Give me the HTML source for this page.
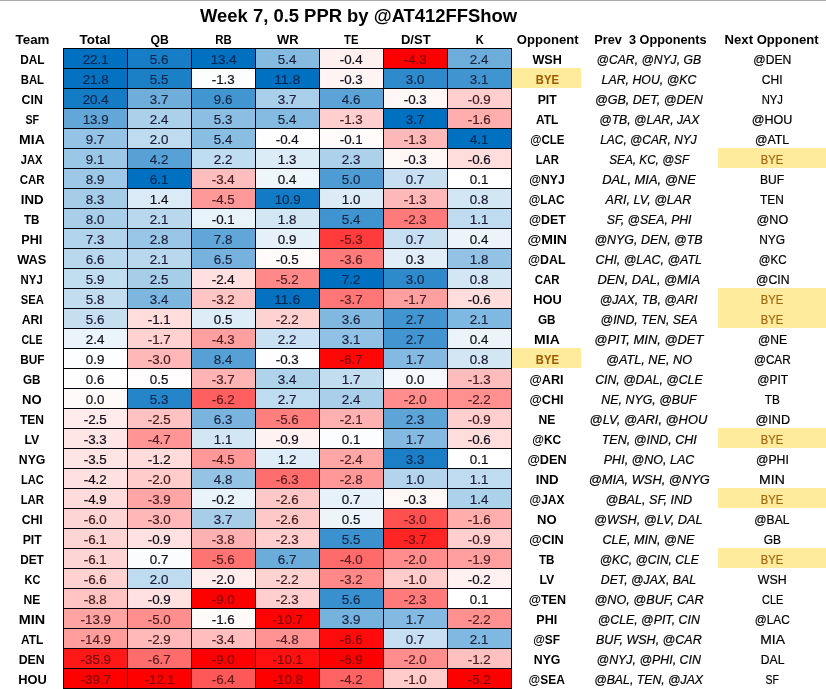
<!DOCTYPE html>
<html><head><meta charset="utf-8"><title>Week 7, 0.5 PPR</title>
<style>
html,body{margin:0;padding:0;background:#fff;}
body{width:826px;height:689px;position:relative;overflow:hidden;font-family:"Liberation Sans",sans-serif;color:#000;}
.topline{position:absolute;left:0;top:0;width:826px;height:1px;background:#a9a9a9;}
.grid{position:absolute;left:63px;top:48px;width:449px;height:641px;overflow:hidden;}
.c{position:absolute;width:65px;height:21px;}
.vl{position:absolute;top:0;width:1px;height:100%;background:#02020a;}
.hl{position:absolute;left:0;height:1px;width:100%;background:#02020a;}
.y{position:absolute;background:#FFEB9C;}
.t{position:absolute;white-space:pre;line-height:1;font-size:13px;transform-origin:50% 50%;}
.b,.hb{font-weight:bold;}
.i{font-style:italic;}
.n{color:rgba(0,0,10,0.93);}
.n,.r,.i{-webkit-text-stroke:0.22px currentColor;}
.ttl{font-weight:bold;font-size:18.2px;}
.bye{color:#9C5700;}
.r.bye{color:#A2660E;}
.txt{position:absolute;left:0;top:0;width:826px;height:689px;will-change:transform;}

</style></head><body>
<div class="topline"></div>
<div class="y" style="left:512.4px;top:67.8px;width:68.6px;height:19.8px"></div>
<div class="y" style="left:718px;top:147.8px;width:108px;height:19.8px"></div>
<div class="y" style="left:718px;top:287.8px;width:108px;height:19.8px"></div>
<div class="y" style="left:718px;top:307.8px;width:108px;height:19.8px"></div>
<div class="y" style="left:512.4px;top:347.8px;width:68.6px;height:19.8px"></div>
<div class="y" style="left:718px;top:427.8px;width:108px;height:19.8px"></div>
<div class="y" style="left:718px;top:487.8px;width:108px;height:19.8px"></div>
<div class="y" style="left:718px;top:547.8px;width:108px;height:19.8px"></div>
<div class="grid">
<div class="c" style="left:0px;top:0px;background:#0070C0"></div>
<div class="c" style="left:64px;top:0px;background:#177DC6"></div>
<div class="c" style="left:128px;top:0px;background:#0070C0"></div>
<div class="c" style="left:192px;top:0px;background:#86BBE1"></div>
<div class="c" style="left:256px;top:0px;background:#FFF0F0"></div>
<div class="c" style="left:320px;top:0px;background:#FF0000"></div>
<div class="c" style="left:384px;top:0px;background:#6CADDB"></div>
<div class="c" style="left:0px;top:20px;background:#0472C1"></div>
<div class="c" style="left:64px;top:20px;background:#1C80C7"></div>
<div class="c" style="left:128px;top:20px;background:#FCFEFE"></div>
<div class="c" style="left:192px;top:20px;background:#0070C0"></div>
<div class="c" style="left:256px;top:20px;background:#FFF4F4"></div>
<div class="c" style="left:320px;top:20px;background:#2E8ACB"></div>
<div class="c" style="left:384px;top:20px;background:#4094D0"></div>
<div class="c" style="left:0px;top:40px;background:#147BC5"></div>
<div class="c" style="left:64px;top:40px;background:#6FAEDB"></div>
<div class="c" style="left:128px;top:40px;background:#4195D0"></div>
<div class="c" style="left:192px;top:40px;background:#AACFEA"></div>
<div class="c" style="left:256px;top:40px;background:#5CA4D7"></div>
<div class="c" style="left:320px;top:40px;background:#FFF6F6"></div>
<div class="c" style="left:384px;top:40px;background:#FFCFCF"></div>
<div class="c" style="left:0px;top:60px;background:#62A7D8"></div>
<div class="c" style="left:64px;top:60px;background:#ACD0EA"></div>
<div class="c" style="left:128px;top:60px;background:#8BBEE2"></div>
<div class="c" style="left:192px;top:60px;background:#86BBE1"></div>
<div class="c" style="left:256px;top:60px;background:#FFCFCF"></div>
<div class="c" style="left:320px;top:60px;background:#0070C0"></div>
<div class="c" style="left:384px;top:60px;background:#FFADAD"></div>
<div class="c" style="left:0px;top:80px;background:#94C3E5"></div>
<div class="c" style="left:64px;top:80px;background:#BEDBEF"></div>
<div class="c" style="left:128px;top:80px;background:#89BDE2"></div>
<div class="c" style="left:192px;top:80px;background:#FFFEFE"></div>
<div class="c" style="left:256px;top:80px;background:#FFFBFB"></div>
<div class="c" style="left:320px;top:80px;background:#FFB8B8"></div>
<div class="c" style="left:384px;top:80px;background:#0070C0"></div>
<div class="c" style="left:0px;top:100px;background:#9BC7E6"></div>
<div class="c" style="left:64px;top:100px;background:#58A1D6"></div>
<div class="c" style="left:128px;top:100px;background:#C0DCF0"></div>
<div class="c" style="left:192px;top:100px;background:#DCECF6"></div>
<div class="c" style="left:256px;top:100px;background:#AED1EB"></div>
<div class="c" style="left:320px;top:100px;background:#FFF6F6"></div>
<div class="c" style="left:384px;top:100px;background:#FFDDDD"></div>
<div class="c" style="left:0px;top:120px;background:#9EC8E7"></div>
<div class="c" style="left:64px;top:120px;background:#0070C0"></div>
<div class="c" style="left:128px;top:120px;background:#FFBDBD"></div>
<div class="c" style="left:192px;top:120px;background:#EFF6FB"></div>
<div class="c" style="left:256px;top:120px;background:#4E9CD3"></div>
<div class="c" style="left:320px;top:120px;background:#C7DFF1"></div>
<div class="c" style="left:384px;top:120px;background:#FFFFFF"></div>
<div class="c" style="left:0px;top:140px;background:#A5CCE9"></div>
<div class="c" style="left:64px;top:140px;background:#DAEAF6"></div>
<div class="c" style="left:128px;top:140px;background:#FF9898"></div>
<div class="c" style="left:192px;top:140px;background:#137BC5"></div>
<div class="c" style="left:256px;top:140px;background:#DCEBF6"></div>
<div class="c" style="left:320px;top:140px;background:#FFB8B8"></div>
<div class="c" style="left:384px;top:140px;background:#D2E6F4"></div>
<div class="c" style="left:0px;top:160px;background:#A8CEEA"></div>
<div class="c" style="left:64px;top:160px;background:#B9D8EE"></div>
<div class="c" style="left:128px;top:160px;background:#E8F2F9"></div>
<div class="c" style="left:192px;top:160px;background:#D2E6F4"></div>
<div class="c" style="left:256px;top:160px;background:#4094D0"></div>
<div class="c" style="left:320px;top:160px;background:#FF7B7B"></div>
<div class="c" style="left:384px;top:160px;background:#BFDBEF"></div>
<div class="c" style="left:0px;top:180px;background:#B1D3EC"></div>
<div class="c" style="left:64px;top:180px;background:#99C6E6"></div>
<div class="c" style="left:128px;top:180px;background:#60A6D8"></div>
<div class="c" style="left:192px;top:180px;background:#E5F0F9"></div>
<div class="c" style="left:256px;top:180px;background:#FF3B3B"></div>
<div class="c" style="left:320px;top:180px;background:#C7DFF1"></div>
<div class="c" style="left:384px;top:180px;background:#ECF4FA"></div>
<div class="c" style="left:0px;top:200px;background:#B9D8EE"></div>
<div class="c" style="left:64px;top:200px;background:#B9D8EE"></div>
<div class="c" style="left:128px;top:200px;background:#76B2DD"></div>
<div class="c" style="left:192px;top:200px;background:#FFFBFB"></div>
<div class="c" style="left:256px;top:200px;background:#FF7A7A"></div>
<div class="c" style="left:320px;top:200px;background:#E1EEF8"></div>
<div class="c" style="left:384px;top:200px;background:#93C2E4"></div>
<div class="c" style="left:0px;top:220px;background:#C1DDF0"></div>
<div class="c" style="left:64px;top:220px;background:#A7CEE9"></div>
<div class="c" style="left:128px;top:220px;background:#FFDFDF"></div>
<div class="c" style="left:192px;top:220px;background:#FF8989"></div>
<div class="c" style="left:256px;top:220px;background:#0070C0"></div>
<div class="c" style="left:320px;top:220px;background:#2E8ACB"></div>
<div class="c" style="left:384px;top:220px;background:#D2E6F4"></div>
<div class="c" style="left:0px;top:240px;background:#C3DDF0"></div>
<div class="c" style="left:64px;top:240px;background:#7DB6DF"></div>
<div class="c" style="left:128px;top:240px;background:#FFC4C4"></div>
<div class="c" style="left:192px;top:240px;background:#0472C1"></div>
<div class="c" style="left:256px;top:240px;background:#FF7676"></div>
<div class="c" style="left:320px;top:240px;background:#FFA0A0"></div>
<div class="c" style="left:384px;top:240px;background:#FFDDDD"></div>
<div class="c" style="left:0px;top:260px;background:#C5DFF1"></div>
<div class="c" style="left:64px;top:260px;background:#FFDDDD"></div>
<div class="c" style="left:128px;top:260px;background:#DEECF7"></div>
<div class="c" style="left:192px;top:260px;background:#FFD2D2"></div>
<div class="c" style="left:256px;top:260px;background:#80B8E0"></div>
<div class="c" style="left:320px;top:260px;background:#4295D0"></div>
<div class="c" style="left:384px;top:260px;background:#7FB8E0"></div>
<div class="c" style="left:0px;top:280px;background:#EBF4FA"></div>
<div class="c" style="left:64px;top:280px;background:#FFD1D1"></div>
<div class="c" style="left:128px;top:280px;background:#FF9F9F"></div>
<div class="c" style="left:192px;top:280px;background:#C9E1F2"></div>
<div class="c" style="left:256px;top:280px;background:#91C1E4"></div>
<div class="c" style="left:320px;top:280px;background:#4295D0"></div>
<div class="c" style="left:384px;top:280px;background:#ECF4FA"></div>
<div class="c" style="left:0px;top:300px;background:#FDFEFF"></div>
<div class="c" style="left:64px;top:300px;background:#FFB7B7"></div>
<div class="c" style="left:128px;top:300px;background:#56A0D5"></div>
<div class="c" style="left:192px;top:300px;background:#FEFEFF"></div>
<div class="c" style="left:256px;top:300px;background:#FF0707"></div>
<div class="c" style="left:320px;top:300px;background:#84BAE1"></div>
<div class="c" style="left:384px;top:300px;background:#D2E6F4"></div>
<div class="c" style="left:0px;top:320px;background:#FFFEFE"></div>
<div class="c" style="left:64px;top:320px;background:#FFFDFD"></div>
<div class="c" style="left:128px;top:320px;background:#FFB3B3"></div>
<div class="c" style="left:192px;top:320px;background:#B0D3EC"></div>
<div class="c" style="left:256px;top:320px;background:#C3DDF0"></div>
<div class="c" style="left:320px;top:320px;background:#F5F9FD"></div>
<div class="c" style="left:384px;top:320px;background:#FFBCBC"></div>
<div class="c" style="left:0px;top:340px;background:#FFFAFA"></div>
<div class="c" style="left:64px;top:340px;background:#2585C9"></div>
<div class="c" style="left:128px;top:340px;background:#FF5F5F"></div>
<div class="c" style="left:192px;top:340px;background:#BFDBEF"></div>
<div class="c" style="left:256px;top:340px;background:#AACFEA"></div>
<div class="c" style="left:320px;top:340px;background:#FF8D8D"></div>
<div class="c" style="left:384px;top:340px;background:#FF9090"></div>
<div class="c" style="left:0px;top:360px;background:#FFEBEB"></div>
<div class="c" style="left:64px;top:360px;background:#FFC1C1"></div>
<div class="c" style="left:128px;top:360px;background:#7AB4DE"></div>
<div class="c" style="left:192px;top:360px;background:#FF7F7F"></div>
<div class="c" style="left:256px;top:360px;background:#FFB1B1"></div>
<div class="c" style="left:320px;top:360px;background:#5DA4D7"></div>
<div class="c" style="left:384px;top:360px;background:#FFCFCF"></div>
<div class="c" style="left:0px;top:380px;background:#FFE5E5"></div>
<div class="c" style="left:64px;top:380px;background:#FF9595"></div>
<div class="c" style="left:128px;top:380px;background:#D3E6F4"></div>
<div class="c" style="left:192px;top:380px;background:#FFF2F2"></div>
<div class="c" style="left:256px;top:380px;background:#FBFDFE"></div>
<div class="c" style="left:320px;top:380px;background:#84BAE1"></div>
<div class="c" style="left:384px;top:380px;background:#FFDDDD"></div>
<div class="c" style="left:0px;top:400px;background:#FFE4E4"></div>
<div class="c" style="left:64px;top:400px;background:#FFDBDB"></div>
<div class="c" style="left:128px;top:400px;background:#FF9898"></div>
<div class="c" style="left:192px;top:400px;background:#DEEDF7"></div>
<div class="c" style="left:256px;top:400px;background:#FFA6A6"></div>
<div class="c" style="left:320px;top:400px;background:#1A7FC7"></div>
<div class="c" style="left:384px;top:400px;background:#FFFFFF"></div>
<div class="c" style="left:0px;top:420px;background:#FFE0E0"></div>
<div class="c" style="left:64px;top:420px;background:#FFCBCB"></div>
<div class="c" style="left:128px;top:420px;background:#94C3E4"></div>
<div class="c" style="left:192px;top:420px;background:#FF6E6E"></div>
<div class="c" style="left:256px;top:420px;background:#FF9898"></div>
<div class="c" style="left:320px;top:420px;background:#B3D4EC"></div>
<div class="c" style="left:384px;top:420px;background:#BFDBEF"></div>
<div class="c" style="left:0px;top:440px;background:#FFDBDB"></div>
<div class="c" style="left:64px;top:440px;background:#FFA5A5"></div>
<div class="c" style="left:128px;top:440px;background:#EAF3FA"></div>
<div class="c" style="left:192px;top:440px;background:#FFC8C8"></div>
<div class="c" style="left:256px;top:440px;background:#E6F1F9"></div>
<div class="c" style="left:320px;top:440px;background:#FFF6F6"></div>
<div class="c" style="left:384px;top:440px;background:#ACD1EB"></div>
<div class="c" style="left:0px;top:460px;background:#FFD4D4"></div>
<div class="c" style="left:64px;top:460px;background:#FFB7B7"></div>
<div class="c" style="left:128px;top:460px;background:#A7CDE9"></div>
<div class="c" style="left:192px;top:460px;background:#FFC8C8"></div>
<div class="c" style="left:256px;top:460px;background:#EDF5FB"></div>
<div class="c" style="left:320px;top:460px;background:#FF5050"></div>
<div class="c" style="left:384px;top:460px;background:#FFADAD"></div>
<div class="c" style="left:0px;top:480px;background:#FFD4D4"></div>
<div class="c" style="left:64px;top:480px;background:#FFE1E1"></div>
<div class="c" style="left:128px;top:480px;background:#FFB0B0"></div>
<div class="c" style="left:192px;top:480px;background:#FFCFCF"></div>
<div class="c" style="left:256px;top:480px;background:#3C92CF"></div>
<div class="c" style="left:320px;top:480px;background:#FF2525"></div>
<div class="c" style="left:384px;top:480px;background:#FFCFCF"></div>
<div class="c" style="left:0px;top:500px;background:#FFD4D4"></div>
<div class="c" style="left:64px;top:500px;background:#FAFCFE"></div>
<div class="c" style="left:128px;top:500px;background:#FF7373"></div>
<div class="c" style="left:192px;top:500px;background:#6BACDA"></div>
<div class="c" style="left:256px;top:500px;background:#FF6B6B"></div>
<div class="c" style="left:320px;top:500px;background:#FF8D8D"></div>
<div class="c" style="left:384px;top:500px;background:#FF9F9F"></div>
<div class="c" style="left:0px;top:520px;background:#FFD1D1"></div>
<div class="c" style="left:64px;top:520px;background:#BEDBEF"></div>
<div class="c" style="left:128px;top:520px;background:#FFECEC"></div>
<div class="c" style="left:192px;top:520px;background:#FFD2D2"></div>
<div class="c" style="left:256px;top:520px;background:#FF8989"></div>
<div class="c" style="left:320px;top:520px;background:#FFCBCB"></div>
<div class="c" style="left:384px;top:520px;background:#FFF1F1"></div>
<div class="c" style="left:0px;top:540px;background:#FFC3C3"></div>
<div class="c" style="left:64px;top:540px;background:#FFE1E1"></div>
<div class="c" style="left:128px;top:540px;background:#FF0000"></div>
<div class="c" style="left:192px;top:540px;background:#FFCFCF"></div>
<div class="c" style="left:256px;top:540px;background:#3990CE"></div>
<div class="c" style="left:320px;top:540px;background:#FF7B7B"></div>
<div class="c" style="left:384px;top:540px;background:#FFFFFF"></div>
<div class="c" style="left:0px;top:560px;background:#FFA3A3"></div>
<div class="c" style="left:64px;top:560px;background:#FF8F8F"></div>
<div class="c" style="left:128px;top:560px;background:#FFFAFA"></div>
<div class="c" style="left:192px;top:560px;background:#FF0202"></div>
<div class="c" style="left:256px;top:560px;background:#75B2DD"></div>
<div class="c" style="left:320px;top:560px;background:#84BAE1"></div>
<div class="c" style="left:384px;top:560px;background:#FF9090"></div>
<div class="c" style="left:0px;top:580px;background:#FF9C9C"></div>
<div class="c" style="left:64px;top:580px;background:#FFB9B9"></div>
<div class="c" style="left:128px;top:580px;background:#FFBDBD"></div>
<div class="c" style="left:192px;top:580px;background:#FF9292"></div>
<div class="c" style="left:256px;top:580px;background:#FF0B0B"></div>
<div class="c" style="left:320px;top:580px;background:#C7DFF1"></div>
<div class="c" style="left:384px;top:580px;background:#7FB8E0"></div>
<div class="c" style="left:0px;top:600px;background:#FF1818"></div>
<div class="c" style="left:64px;top:600px;background:#FF6C6C"></div>
<div class="c" style="left:128px;top:600px;background:#FF0000"></div>
<div class="c" style="left:192px;top:600px;background:#FF1111"></div>
<div class="c" style="left:256px;top:600px;background:#FF0000"></div>
<div class="c" style="left:320px;top:600px;background:#FF8D8D"></div>
<div class="c" style="left:384px;top:600px;background:#FFC0C0"></div>
<div class="c" style="left:0px;top:620px;background:#FF0000"></div>
<div class="c" style="left:64px;top:620px;background:#FF0000"></div>
<div class="c" style="left:128px;top:620px;background:#FF5858"></div>
<div class="c" style="left:192px;top:620px;background:#FF0000"></div>
<div class="c" style="left:256px;top:620px;background:#FF6464"></div>
<div class="c" style="left:320px;top:620px;background:#FFCBCB"></div>
<div class="c" style="left:384px;top:620px;background:#FF0000"></div>
<div class="vl" style="left:0px"></div>
<div class="vl" style="left:64px"></div>
<div class="vl" style="left:128px"></div>
<div class="vl" style="left:192px"></div>
<div class="vl" style="left:256px"></div>
<div class="vl" style="left:320px"></div>
<div class="vl" style="left:384px"></div>
<div class="vl" style="left:448px"></div>
<div class="hl" style="top:0px"></div>
<div class="hl" style="top:20px"></div>
<div class="hl" style="top:40px"></div>
<div class="hl" style="top:60px"></div>
<div class="hl" style="top:80px"></div>
<div class="hl" style="top:100px"></div>
<div class="hl" style="top:120px"></div>
<div class="hl" style="top:140px"></div>
<div class="hl" style="top:160px"></div>
<div class="hl" style="top:180px"></div>
<div class="hl" style="top:200px"></div>
<div class="hl" style="top:220px"></div>
<div class="hl" style="top:240px"></div>
<div class="hl" style="top:260px"></div>
<div class="hl" style="top:280px"></div>
<div class="hl" style="top:300px"></div>
<div class="hl" style="top:320px"></div>
<div class="hl" style="top:340px"></div>
<div class="hl" style="top:360px"></div>
<div class="hl" style="top:380px"></div>
<div class="hl" style="top:400px"></div>
<div class="hl" style="top:420px"></div>
<div class="hl" style="top:440px"></div>
<div class="hl" style="top:460px"></div>
<div class="hl" style="top:480px"></div>
<div class="hl" style="top:500px"></div>
<div class="hl" style="top:520px"></div>
<div class="hl" style="top:540px"></div>
<div class="hl" style="top:560px"></div>
<div class="hl" style="top:580px"></div>
<div class="hl" style="top:600px"></div>
<div class="hl" style="top:620px"></div>
<div class="hl" style="top:640px"></div>
</div>
<div class="txt">
<div class="t ttl" style="left:202.39px;top:7.48px;transform:scaleX(1.0126)">Week 7, 0.5 PPR by @AT412FFShow</div>
<div class="t hb" style="left:15.50px;top:33.35px;transform:scaleX(1.0247)">Team</div>
<div class="t hb" style="left:80.45px;top:33.35px;transform:scaleX(1.0330)">Total</div>
<div class="t hb" style="left:149.75px;top:33.35px;transform:scaleX(0.9374)">QB</div>
<div class="t hb" style="left:214.11px;top:33.35px;transform:scaleX(0.8772)">RB</div>
<div class="t hb" style="left:276.66px;top:33.35px;transform:scaleX(0.9944)">WR</div>
<div class="t hb" style="left:343.19px;top:33.35px;transform:scaleX(0.8674)">TE</div>
<div class="t hb" style="left:400.69px;top:33.35px;transform:scaleX(1.0042)">D/ST</div>
<div class="t hb" style="left:474.80px;top:33.35px;transform:scaleX(0.8545)">K</div>
<div class="t hb" style="left:516.60px;top:33.35px;transform:scaleX(1.0063)">Opponent</div>
<div class="t hb" style="left:592.86px;top:33.35px;transform:scaleX(0.9781)">Prev  3 Opponents</div>
<div class="t hb" style="left:725.41px;top:33.35px;transform:scaleX(1.0085)">Next Opponent</div>
<div class="t b" style="left:18.64px;top:53.35px;transform:scaleX(0.9109)">DAL</div>
<div class="t n" style="left:82.84px;top:53.35px;transform:scaleX(1.0276);color:rgba(0,0,30,0.60)">22.1</div>
<div class="t n" style="left:150.46px;top:53.35px;transform:scaleX(1.0273);color:rgba(0,0,30,0.63)">5.6</div>
<div class="t n" style="left:210.84px;top:53.35px;transform:scaleX(1.0276);color:rgba(0,0,30,0.60)">13.4</div>
<div class="t n" style="left:278.46px;top:53.35px;transform:scaleX(1.0273);color:rgba(0,0,30,0.77)">5.4</div>
<div class="t n" style="left:340.30px;top:53.35px;transform:scaleX(1.0292)">-0.4</div>
<div class="t n" style="left:404.30px;top:53.35px;transform:scaleX(1.0292);color:rgba(40,0,0,0.51)">-4.3</div>
<div class="t n" style="left:470.46px;top:53.35px;transform:scaleX(1.0273);color:rgba(0,0,30,0.74)">2.4</div>
<div class="t b" style="left:531.83px;top:53.35px;transform:scaleX(0.9713)">WSH</div>
<div class="t i" style="left:592.98px;top:53.35px;transform:scaleX(0.9353)">@CAR, @NYJ, GB</div>
<div class="t r" style="left:751.97px;top:53.35px;transform:scaleX(0.9365)">@DEN</div>
<div class="t b" style="left:18.64px;top:73.35px;transform:scaleX(0.8724)">BAL</div>
<div class="t n" style="left:82.84px;top:73.35px;transform:scaleX(1.0276);color:rgba(0,0,30,0.60)">21.8</div>
<div class="t n" style="left:150.46px;top:73.35px;transform:scaleX(1.0273);color:rgba(0,0,30,0.64)">5.5</div>
<div class="t n" style="left:212.30px;top:73.35px;transform:scaleX(1.0292)">-1.3</div>
<div class="t n" style="left:275.33px;top:73.35px;transform:scaleX(1.0684);color:rgba(0,0,30,0.60)">11.8</div>
<div class="t n" style="left:340.30px;top:73.35px;transform:scaleX(1.0292)">-0.3</div>
<div class="t n" style="left:406.46px;top:73.35px;transform:scaleX(1.0273);color:rgba(0,0,30,0.66)">3.0</div>
<div class="t n" style="left:470.46px;top:73.35px;transform:scaleX(1.0273);color:rgba(0,0,30,0.68)">3.1</div>
<div class="t b bye" style="left:533.63px;top:73.35px;transform:scaleX(0.8604)">BYE</div>
<div class="t i" style="left:598.85px;top:73.35px;transform:scaleX(0.9492)">LAR, HOU, @KC</div>
<div class="t r" style="left:761.10px;top:73.35px;transform:scaleX(0.9225)">CHI</div>
<div class="t b" style="left:20.80px;top:93.35px;transform:scaleX(0.9533)">CIN</div>
<div class="t n" style="left:82.84px;top:93.35px;transform:scaleX(1.0276);color:rgba(0,0,30,0.63)">20.4</div>
<div class="t n" style="left:150.46px;top:93.35px;transform:scaleX(1.0273);color:rgba(0,0,30,0.74)">3.7</div>
<div class="t n" style="left:214.46px;top:93.35px;transform:scaleX(1.0273);color:rgba(0,0,30,0.68)">9.6</div>
<div class="t n" style="left:278.46px;top:93.35px;transform:scaleX(1.0273);color:rgba(0,0,30,0.82)">3.7</div>
<div class="t n" style="left:342.46px;top:93.35px;transform:scaleX(1.0273);color:rgba(0,0,30,0.72)">4.6</div>
<div class="t n" style="left:404.30px;top:93.35px;transform:scaleX(1.0292)">-0.3</div>
<div class="t n" style="left:468.30px;top:93.35px;transform:scaleX(1.0292);color:rgba(40,0,0,0.85)">-0.9</div>
<div class="t b" style="left:536.88px;top:93.35px;transform:scaleX(0.9382)">PIT</div>
<div class="t i" style="left:592.85px;top:93.35px;transform:scaleX(0.9636)">@GB, DET, @DEN</div>
<div class="t r" style="left:760.02px;top:93.35px;transform:scaleX(0.8672)">NYJ</div>
<div class="t b" style="left:23.69px;top:113.35px;transform:scaleX(0.8224)">SF</div>
<div class="t n" style="left:82.84px;top:113.35px;transform:scaleX(1.0276);color:rgba(0,0,30,0.73)">13.9</div>
<div class="t n" style="left:150.46px;top:113.35px;transform:scaleX(1.0273);color:rgba(0,0,30,0.82)">2.4</div>
<div class="t n" style="left:214.46px;top:113.35px;transform:scaleX(1.0273);color:rgba(0,0,30,0.78)">5.3</div>
<div class="t n" style="left:278.46px;top:113.35px;transform:scaleX(1.0273);color:rgba(0,0,30,0.77)">5.4</div>
<div class="t n" style="left:340.30px;top:113.35px;transform:scaleX(1.0292);color:rgba(40,0,0,0.85)">-1.3</div>
<div class="t n" style="left:406.46px;top:113.35px;transform:scaleX(1.0273);color:rgba(0,0,30,0.60)">3.7</div>
<div class="t n" style="left:468.30px;top:113.35px;transform:scaleX(1.0292);color:rgba(40,0,0,0.80)">-1.6</div>
<div class="t b" style="left:534.84px;top:113.35px;transform:scaleX(0.9196)">ATL</div>
<div class="t i" style="left:595.50px;top:113.35px;transform:scaleX(0.9394)">@TB, @LAR, JAX</div>
<div class="t r" style="left:751.25px;top:113.35px;transform:scaleX(0.9665)">@HOU</div>
<div class="t b" style="left:20.08px;top:133.35px;transform:scaleX(1.0749)">MIA</div>
<div class="t n" style="left:86.46px;top:133.35px;transform:scaleX(1.0273);color:rgba(0,0,30,0.79)">9.7</div>
<div class="t n" style="left:150.46px;top:133.35px;transform:scaleX(1.0273);color:rgba(0,0,30,0.85)">2.0</div>
<div class="t n" style="left:214.46px;top:133.35px;transform:scaleX(1.0273);color:rgba(0,0,30,0.78)">5.4</div>
<div class="t n" style="left:276.30px;top:133.35px;transform:scaleX(1.0292)">-0.4</div>
<div class="t n" style="left:340.30px;top:133.35px;transform:scaleX(1.0292)">-0.1</div>
<div class="t n" style="left:404.30px;top:133.35px;transform:scaleX(1.0292);color:rgba(40,0,0,0.81)">-1.3</div>
<div class="t n" style="left:470.46px;top:133.35px;transform:scaleX(1.0273);color:rgba(0,0,30,0.60)">4.1</div>
<div class="t b" style="left:527.66px;top:133.35px;transform:scaleX(0.8866)">@CLE</div>
<div class="t i" style="left:596.32px;top:133.35px;transform:scaleX(0.9198)">LAC, @CAR, NYJ</div>
<div class="t r" style="left:754.26px;top:133.35px;transform:scaleX(0.9483)">@ATL</div>
<div class="t b" style="left:19.35px;top:153.35px;transform:scaleX(0.8583)">JAX</div>
<div class="t n" style="left:86.46px;top:153.35px;transform:scaleX(1.0273);color:rgba(0,0,30,0.80)">9.1</div>
<div class="t n" style="left:150.46px;top:153.35px;transform:scaleX(1.0273);color:rgba(0,0,30,0.71)">4.2</div>
<div class="t n" style="left:214.46px;top:153.35px;transform:scaleX(1.0273);color:rgba(0,0,30,0.85)">2.2</div>
<div class="t n" style="left:278.46px;top:153.35px;transform:scaleX(1.0273)">1.3</div>
<div class="t n" style="left:342.46px;top:153.35px;transform:scaleX(1.0273);color:rgba(0,0,30,0.82)">2.3</div>
<div class="t n" style="left:404.30px;top:153.35px;transform:scaleX(1.0292)">-0.3</div>
<div class="t n" style="left:468.30px;top:153.35px;transform:scaleX(1.0292)">-0.6</div>
<div class="t b" style="left:533.64px;top:153.35px;transform:scaleX(0.8741)">LAR</div>
<div class="t i" style="left:604.64px;top:153.35px;transform:scaleX(0.9032)">SEA, KC, @SF</div>
<div class="t r bye" style="left:759.29px;top:153.35px;transform:scaleX(0.8566)">BYE</div>
<div class="t b" style="left:17.91px;top:173.35px;transform:scaleX(0.8842)">CAR</div>
<div class="t n" style="left:86.46px;top:173.35px;transform:scaleX(1.0273);color:rgba(0,0,30,0.80)">8.9</div>
<div class="t n" style="left:150.46px;top:173.35px;transform:scaleX(1.0273);color:rgba(0,0,30,0.60)">6.1</div>
<div class="t n" style="left:212.30px;top:173.35px;transform:scaleX(1.0292);color:rgba(40,0,0,0.82)">-3.4</div>
<div class="t n" style="left:278.46px;top:173.35px;transform:scaleX(1.0273)">0.4</div>
<div class="t n" style="left:342.46px;top:173.35px;transform:scaleX(1.0273);color:rgba(0,0,30,0.70)">5.0</div>
<div class="t n" style="left:406.46px;top:173.35px;transform:scaleX(1.0273);color:rgba(0,0,30,0.86)">0.7</div>
<div class="t n" style="left:470.46px;top:173.35px;transform:scaleX(1.0273)">0.1</div>
<div class="t b" style="left:528.02px;top:173.35px;transform:scaleX(0.9304)">@NYJ</div>
<div class="t i" style="left:601.75px;top:173.35px;transform:scaleX(0.9938)">DAL, MIA, @NE</div>
<div class="t r" style="left:759.30px;top:173.35px;transform:scaleX(0.9282)">BUF</div>
<div class="t b" style="left:20.80px;top:193.35px;transform:scaleX(1.0195)">IND</div>
<div class="t n" style="left:86.46px;top:193.35px;transform:scaleX(1.0273);color:rgba(0,0,30,0.81)">8.3</div>
<div class="t n" style="left:150.46px;top:193.35px;transform:scaleX(1.0273)">1.4</div>
<div class="t n" style="left:212.30px;top:193.35px;transform:scaleX(1.0292);color:rgba(40,0,0,0.76)">-4.5</div>
<div class="t n" style="left:274.84px;top:193.35px;transform:scaleX(1.0276);color:rgba(0,0,30,0.62)">10.9</div>
<div class="t n" style="left:342.46px;top:193.35px;transform:scaleX(1.0273)">1.0</div>
<div class="t n" style="left:404.30px;top:193.35px;transform:scaleX(1.0292);color:rgba(40,0,0,0.81)">-1.3</div>
<div class="t n" style="left:470.46px;top:193.35px;transform:scaleX(1.0273);color:rgba(0,0,30,0.87)">0.8</div>
<div class="t b" style="left:527.30px;top:193.35px;transform:scaleX(0.9143)">@LAC</div>
<div class="t i" style="left:604.39px;top:193.35px;transform:scaleX(0.9652)">ARI, LV, @LAR</div>
<div class="t r" style="left:759.30px;top:193.35px;transform:scaleX(0.9146)">TEN</div>
<div class="t b" style="left:23.33px;top:213.35px;transform:scaleX(0.8924)">TB</div>
<div class="t n" style="left:86.46px;top:213.35px;transform:scaleX(1.0273);color:rgba(0,0,30,0.82)">8.0</div>
<div class="t n" style="left:150.46px;top:213.35px;transform:scaleX(1.0273);color:rgba(0,0,30,0.84)">2.1</div>
<div class="t n" style="left:212.30px;top:213.35px;transform:scaleX(1.0292)">-0.1</div>
<div class="t n" style="left:278.46px;top:213.35px;transform:scaleX(1.0273);color:rgba(0,0,30,0.87)">1.8</div>
<div class="t n" style="left:342.46px;top:213.35px;transform:scaleX(1.0273);color:rgba(0,0,30,0.68)">5.4</div>
<div class="t n" style="left:404.30px;top:213.35px;transform:scaleX(1.0292);color:rgba(40,0,0,0.71)">-2.3</div>
<div class="t n" style="left:470.46px;top:213.35px;transform:scaleX(1.0273);color:rgba(0,0,30,0.85)">1.1</div>
<div class="t b" style="left:527.66px;top:213.35px;transform:scaleX(0.9522)">@DET</div>
<div class="t i" style="left:603.67px;top:213.35px;transform:scaleX(0.9390)">SF, @SEA, PHI</div>
<div class="t r" style="left:755.95px;top:213.35px;transform:scaleX(0.9664)">@NO</div>
<div class="t b" style="left:21.16px;top:233.35px;transform:scaleX(0.9673)">PHI</div>
<div class="t n" style="left:86.46px;top:233.35px;transform:scaleX(1.0273);color:rgba(0,0,30,0.83)">7.3</div>
<div class="t n" style="left:150.46px;top:233.35px;transform:scaleX(1.0273);color:rgba(0,0,30,0.80)">2.8</div>
<div class="t n" style="left:214.46px;top:233.35px;transform:scaleX(1.0273);color:rgba(0,0,30,0.72)">7.8</div>
<div class="t n" style="left:278.46px;top:233.35px;transform:scaleX(1.0273)">0.9</div>
<div class="t n" style="left:340.30px;top:233.35px;transform:scaleX(1.0292);color:rgba(40,0,0,0.61)">-5.3</div>
<div class="t n" style="left:406.46px;top:233.35px;transform:scaleX(1.0273);color:rgba(0,0,30,0.86)">0.7</div>
<div class="t n" style="left:470.46px;top:233.35px;transform:scaleX(1.0273)">0.4</div>
<div class="t b" style="left:528.74px;top:233.35px;transform:scaleX(1.0839)">@MIN</div>
<div class="t i" style="left:592.26px;top:233.35px;transform:scaleX(0.9574)">@NYG, DEN, @TB</div>
<div class="t r" style="left:758.21px;top:233.35px;transform:scaleX(0.9186)">NYG</div>
<div class="t b" style="left:17.19px;top:253.35px;transform:scaleX(0.9830)">WAS</div>
<div class="t n" style="left:86.46px;top:253.35px;transform:scaleX(1.0273);color:rgba(0,0,30,0.84)">6.6</div>
<div class="t n" style="left:150.46px;top:253.35px;transform:scaleX(1.0273);color:rgba(0,0,30,0.84)">2.1</div>
<div class="t n" style="left:214.46px;top:253.35px;transform:scaleX(1.0273);color:rgba(0,0,30,0.75)">6.5</div>
<div class="t n" style="left:276.30px;top:253.35px;transform:scaleX(1.0292)">-0.5</div>
<div class="t n" style="left:340.30px;top:253.35px;transform:scaleX(1.0292);color:rgba(40,0,0,0.71)">-3.6</div>
<div class="t n" style="left:406.46px;top:253.35px;transform:scaleX(1.0273)">0.3</div>
<div class="t n" style="left:470.46px;top:253.35px;transform:scaleX(1.0273);color:rgba(0,0,30,0.79)">1.8</div>
<div class="t b" style="left:527.30px;top:253.35px;transform:scaleX(0.9519)">@DAL</div>
<div class="t i" style="left:593.10px;top:253.35px;transform:scaleX(0.9562)">CHI, @LAC, @ATL</div>
<div class="t r" style="left:756.67px;top:253.35px;transform:scaleX(0.8912)">@KC</div>
<div class="t b" style="left:19.35px;top:273.35px;transform:scaleX(0.8757)">NYJ</div>
<div class="t n" style="left:86.46px;top:273.35px;transform:scaleX(1.0273);color:rgba(0,0,30,0.85)">5.9</div>
<div class="t n" style="left:150.46px;top:273.35px;transform:scaleX(1.0273);color:rgba(0,0,30,0.82)">2.5</div>
<div class="t n" style="left:212.30px;top:273.35px;transform:scaleX(1.0292)">-2.4</div>
<div class="t n" style="left:276.30px;top:273.35px;transform:scaleX(1.0292);color:rgba(40,0,0,0.74)">-5.2</div>
<div class="t n" style="left:342.46px;top:273.35px;transform:scaleX(1.0273);color:rgba(0,0,30,0.60)">7.2</div>
<div class="t n" style="left:406.46px;top:273.35px;transform:scaleX(1.0273);color:rgba(0,0,30,0.66)">3.0</div>
<div class="t n" style="left:470.46px;top:273.35px;transform:scaleX(1.0273);color:rgba(0,0,30,0.87)">0.8</div>
<div class="t b" style="left:532.91px;top:273.35px;transform:scaleX(0.8842)">CAR</div>
<div class="t i" style="left:597.05px;top:273.35px;transform:scaleX(0.9908)">DEN, DAL, @MIA</div>
<div class="t r" style="left:754.50px;top:273.35px;transform:scaleX(0.9386)">@CIN</div>
<div class="t b" style="left:18.63px;top:293.35px;transform:scaleX(0.8599)">SEA</div>
<div class="t n" style="left:86.46px;top:293.35px;transform:scaleX(1.0273);color:rgba(0,0,30,0.85)">5.8</div>
<div class="t n" style="left:150.46px;top:293.35px;transform:scaleX(1.0273);color:rgba(0,0,30,0.76)">3.4</div>
<div class="t n" style="left:212.30px;top:293.35px;transform:scaleX(1.0292);color:rgba(40,0,0,0.83)">-3.2</div>
<div class="t n" style="left:275.33px;top:293.35px;transform:scaleX(1.0684);color:rgba(0,0,30,0.61)">11.6</div>
<div class="t n" style="left:340.30px;top:293.35px;transform:scaleX(1.0292);color:rgba(40,0,0,0.70)">-3.7</div>
<div class="t n" style="left:404.30px;top:293.35px;transform:scaleX(1.0292);color:rgba(40,0,0,0.77)">-1.7</div>
<div class="t n" style="left:468.30px;top:293.35px;transform:scaleX(1.0292)">-0.6</div>
<div class="t b" style="left:532.55px;top:293.35px;transform:scaleX(0.9891)">HOU</div>
<div class="t i" style="left:597.32px;top:293.35px;transform:scaleX(0.9485)">@JAX, TB, @ARI</div>
<div class="t r bye" style="left:759.29px;top:293.35px;transform:scaleX(0.8566)">BYE</div>
<div class="t b" style="left:20.80px;top:313.35px;transform:scaleX(0.9408)">ARI</div>
<div class="t n" style="left:86.46px;top:313.35px;transform:scaleX(1.0273);color:rgba(0,0,30,0.86)">5.6</div>
<div class="t n" style="left:148.30px;top:313.35px;transform:scaleX(1.0292)">-1.1</div>
<div class="t n" style="left:214.46px;top:313.35px;transform:scaleX(1.0273)">0.5</div>
<div class="t n" style="left:276.30px;top:313.35px;transform:scaleX(1.0292);color:rgba(40,0,0,0.86)">-2.2</div>
<div class="t n" style="left:342.46px;top:313.35px;transform:scaleX(1.0273);color:rgba(0,0,30,0.77)">3.6</div>
<div class="t n" style="left:406.46px;top:313.35px;transform:scaleX(1.0273);color:rgba(0,0,30,0.69)">2.7</div>
<div class="t n" style="left:470.46px;top:313.35px;transform:scaleX(1.0273);color:rgba(0,0,30,0.77)">2.1</div>
<div class="t b" style="left:537.25px;top:313.35px;transform:scaleX(0.9005)">GB</div>
<div class="t i" style="left:597.78px;top:313.35px;transform:scaleX(0.9490)">@IND, TEN, SEA</div>
<div class="t r bye" style="left:759.29px;top:313.35px;transform:scaleX(0.8566)">BYE</div>
<div class="t b" style="left:19.00px;top:333.35px;transform:scaleX(0.8125)">CLE</div>
<div class="t n" style="left:86.46px;top:333.35px;transform:scaleX(1.0273)">2.4</div>
<div class="t n" style="left:148.30px;top:333.35px;transform:scaleX(1.0292);color:rgba(40,0,0,0.85)">-1.7</div>
<div class="t n" style="left:212.30px;top:333.35px;transform:scaleX(1.0292);color:rgba(40,0,0,0.77)">-4.3</div>
<div class="t n" style="left:278.46px;top:333.35px;transform:scaleX(1.0273);color:rgba(0,0,30,0.86)">2.2</div>
<div class="t n" style="left:342.46px;top:333.35px;transform:scaleX(1.0273);color:rgba(0,0,30,0.79)">3.1</div>
<div class="t n" style="left:406.46px;top:333.35px;transform:scaleX(1.0273);color:rgba(0,0,30,0.69)">2.7</div>
<div class="t n" style="left:470.46px;top:333.35px;transform:scaleX(1.0273)">0.4</div>
<div class="t b" style="left:535.08px;top:333.35px;transform:scaleX(1.0749)">MIA</div>
<div class="t i" style="left:593.95px;top:333.35px;transform:scaleX(0.9942)">@PIT, MIN, @DET</div>
<div class="t r" style="left:756.67px;top:333.35px;transform:scaleX(0.9292)">@NE</div>
<div class="t b" style="left:18.64px;top:353.35px;transform:scaleX(0.9120)">BUF</div>
<div class="t n" style="left:86.46px;top:353.35px;transform:scaleX(1.0273)">0.9</div>
<div class="t n" style="left:148.30px;top:353.35px;transform:scaleX(1.0292);color:rgba(40,0,0,0.81)">-3.0</div>
<div class="t n" style="left:214.46px;top:353.35px;transform:scaleX(1.0273);color:rgba(0,0,30,0.71)">8.4</div>
<div class="t n" style="left:276.30px;top:353.35px;transform:scaleX(1.0292)">-0.3</div>
<div class="t n" style="left:340.30px;top:353.35px;transform:scaleX(1.0292);color:rgba(40,0,0,0.52)">-6.7</div>
<div class="t n" style="left:406.46px;top:353.35px;transform:scaleX(1.0273);color:rgba(0,0,30,0.77)">1.7</div>
<div class="t n" style="left:470.46px;top:353.35px;transform:scaleX(1.0273);color:rgba(0,0,30,0.87)">0.8</div>
<div class="t b bye" style="left:533.63px;top:353.35px;transform:scaleX(0.8604)">BYE</div>
<div class="t i" style="left:604.75px;top:353.35px;transform:scaleX(0.9774)">@ATL, NE, NO</div>
<div class="t r" style="left:751.97px;top:353.35px;transform:scaleX(0.9025)">@CAR</div>
<div class="t b" style="left:22.25px;top:373.35px;transform:scaleX(0.9005)">GB</div>
<div class="t n" style="left:86.46px;top:373.35px;transform:scaleX(1.0273)">0.6</div>
<div class="t n" style="left:150.46px;top:373.35px;transform:scaleX(1.0273)">0.5</div>
<div class="t n" style="left:212.30px;top:373.35px;transform:scaleX(1.0292);color:rgba(40,0,0,0.80)">-3.7</div>
<div class="t n" style="left:278.46px;top:373.35px;transform:scaleX(1.0273);color:rgba(0,0,30,0.83)">3.4</div>
<div class="t n" style="left:342.46px;top:373.35px;transform:scaleX(1.0273);color:rgba(0,0,30,0.85)">1.7</div>
<div class="t n" style="left:406.46px;top:373.35px;transform:scaleX(1.0273)">0.0</div>
<div class="t n" style="left:468.30px;top:373.35px;transform:scaleX(1.0292);color:rgba(40,0,0,0.82)">-1.3</div>
<div class="t b" style="left:529.46px;top:373.35px;transform:scaleX(0.9761)">@ARI</div>
<div class="t i" style="left:591.89px;top:373.35px;transform:scaleX(0.9437)">CIN, @DAL, @CLE</div>
<div class="t r" style="left:755.59px;top:373.35px;transform:scaleX(0.9228)">@PIT</div>
<div class="t b" style="left:22.25px;top:393.35px;transform:scaleX(1.0043)">NO</div>
<div class="t n" style="left:86.46px;top:393.35px;transform:scaleX(1.0273)">0.0</div>
<div class="t n" style="left:150.46px;top:393.35px;transform:scaleX(1.0273);color:rgba(0,0,30,0.65)">5.3</div>
<div class="t n" style="left:212.30px;top:393.35px;transform:scaleX(1.0292);color:rgba(40,0,0,0.67)">-6.2</div>
<div class="t n" style="left:278.46px;top:393.35px;transform:scaleX(1.0273);color:rgba(0,0,30,0.85)">2.7</div>
<div class="t n" style="left:342.46px;top:393.35px;transform:scaleX(1.0273);color:rgba(0,0,30,0.82)">2.4</div>
<div class="t n" style="left:404.30px;top:393.35px;transform:scaleX(1.0292);color:rgba(40,0,0,0.74)">-2.0</div>
<div class="t n" style="left:468.30px;top:393.35px;transform:scaleX(1.0292);color:rgba(40,0,0,0.75)">-2.2</div>
<div class="t b" style="left:529.46px;top:393.35px;transform:scaleX(0.9719)">@CHI</div>
<div class="t i" style="left:598.86px;top:393.35px;transform:scaleX(0.9525)">NE, NYG, @BUF</div>
<div class="t r" style="left:763.99px;top:393.35px;transform:scaleX(0.9098)">TB</div>
<div class="t b" style="left:19.00px;top:413.35px;transform:scaleX(0.9265)">TEN</div>
<div class="t n" style="left:84.30px;top:413.35px;transform:scaleX(1.0292)">-2.5</div>
<div class="t n" style="left:148.30px;top:413.35px;transform:scaleX(1.0292);color:rgba(40,0,0,0.83)">-2.5</div>
<div class="t n" style="left:214.46px;top:413.35px;transform:scaleX(1.0273);color:rgba(0,0,30,0.76)">6.3</div>
<div class="t n" style="left:276.30px;top:413.35px;transform:scaleX(1.0292);color:rgba(40,0,0,0.72)">-5.6</div>
<div class="t n" style="left:340.30px;top:413.35px;transform:scaleX(1.0292);color:rgba(40,0,0,0.80)">-2.1</div>
<div class="t n" style="left:406.46px;top:413.35px;transform:scaleX(1.0273);color:rgba(0,0,30,0.72)">2.3</div>
<div class="t n" style="left:468.30px;top:413.35px;transform:scaleX(1.0292);color:rgba(40,0,0,0.85)">-0.9</div>
<div class="t b" style="left:537.97px;top:413.35px;transform:scaleX(0.9316)">NE</div>
<div class="t i" style="left:589.39px;top:413.35px;transform:scaleX(0.9898)">@LV, @ARI, @HOU</div>
<div class="t r" style="left:754.50px;top:413.35px;transform:scaleX(0.9724)">@IND</div>
<div class="t b" style="left:24.17px;top:433.35px;transform:scaleX(0.9501)">LV</div>
<div class="t n" style="left:84.30px;top:433.35px;transform:scaleX(1.0292)">-3.3</div>
<div class="t n" style="left:148.30px;top:433.35px;transform:scaleX(1.0292);color:rgba(40,0,0,0.75)">-4.7</div>
<div class="t n" style="left:214.46px;top:433.35px;transform:scaleX(1.0273);color:rgba(0,0,30,0.87)">1.1</div>
<div class="t n" style="left:276.30px;top:433.35px;transform:scaleX(1.0292)">-0.9</div>
<div class="t n" style="left:342.46px;top:433.35px;transform:scaleX(1.0273)">0.1</div>
<div class="t n" style="left:406.46px;top:433.35px;transform:scaleX(1.0273);color:rgba(0,0,30,0.77)">1.7</div>
<div class="t n" style="left:468.30px;top:433.35px;transform:scaleX(1.0292)">-0.6</div>
<div class="t b" style="left:531.27px;top:433.35px;transform:scaleX(0.9207)">@KC</div>
<div class="t i" style="left:599.59px;top:433.35px;transform:scaleX(0.9664)">TEN, @IND, CHI</div>
<div class="t r bye" style="left:759.29px;top:433.35px;transform:scaleX(0.8566)">BYE</div>
<div class="t b" style="left:17.91px;top:453.35px;transform:scaleX(0.9456)">NYG</div>
<div class="t n" style="left:84.30px;top:453.35px;transform:scaleX(1.0292)">-3.5</div>
<div class="t n" style="left:148.30px;top:453.35px;transform:scaleX(1.0292)">-1.2</div>
<div class="t n" style="left:212.30px;top:453.35px;transform:scaleX(1.0292);color:rgba(40,0,0,0.76)">-4.5</div>
<div class="t n" style="left:278.46px;top:453.35px;transform:scaleX(1.0273)">1.2</div>
<div class="t n" style="left:340.30px;top:453.35px;transform:scaleX(1.0292);color:rgba(40,0,0,0.78)">-2.4</div>
<div class="t n" style="left:406.46px;top:453.35px;transform:scaleX(1.0273);color:rgba(0,0,30,0.63)">3.3</div>
<div class="t n" style="left:470.46px;top:453.35px;transform:scaleX(1.0273)">0.1</div>
<div class="t b" style="left:526.94px;top:453.35px;transform:scaleX(0.9780)">@DEN</div>
<div class="t i" style="left:601.75px;top:453.35px;transform:scaleX(0.9623)">PHI, @NO, LAC</div>
<div class="t r" style="left:754.86px;top:453.35px;transform:scaleX(0.9415)">@PHI</div>
<div class="t b" style="left:18.64px;top:473.35px;transform:scaleX(0.8554)">LAC</div>
<div class="t n" style="left:84.30px;top:473.35px;transform:scaleX(1.0292)">-4.2</div>
<div class="t n" style="left:148.30px;top:473.35px;transform:scaleX(1.0292);color:rgba(40,0,0,0.84)">-2.0</div>
<div class="t n" style="left:214.46px;top:473.35px;transform:scaleX(1.0273);color:rgba(0,0,30,0.79)">4.8</div>
<div class="t n" style="left:276.30px;top:473.35px;transform:scaleX(1.0292);color:rgba(40,0,0,0.69)">-6.3</div>
<div class="t n" style="left:340.30px;top:473.35px;transform:scaleX(1.0292);color:rgba(40,0,0,0.76)">-2.8</div>
<div class="t n" style="left:406.46px;top:473.35px;transform:scaleX(1.0273);color:rgba(0,0,30,0.83)">1.0</div>
<div class="t n" style="left:470.46px;top:473.35px;transform:scaleX(1.0273);color:rgba(0,0,30,0.85)">1.1</div>
<div class="t b" style="left:535.80px;top:473.35px;transform:scaleX(1.0195)">IND</div>
<div class="t i" style="left:587.57px;top:473.35px;transform:scaleX(0.9892)">@MIA, WSH, @NYG</div>
<div class="t r" style="left:760.38px;top:473.35px;transform:scaleX(1.0785)">MIN</div>
<div class="t b" style="left:18.64px;top:493.35px;transform:scaleX(0.8741)">LAR</div>
<div class="t n" style="left:84.30px;top:493.35px;transform:scaleX(1.0292)">-4.9</div>
<div class="t n" style="left:148.30px;top:493.35px;transform:scaleX(1.0292);color:rgba(40,0,0,0.78)">-3.9</div>
<div class="t n" style="left:212.30px;top:493.35px;transform:scaleX(1.0292)">-0.2</div>
<div class="t n" style="left:276.30px;top:493.35px;transform:scaleX(1.0292);color:rgba(40,0,0,0.84)">-2.6</div>
<div class="t n" style="left:342.46px;top:493.35px;transform:scaleX(1.0273)">0.7</div>
<div class="t n" style="left:404.30px;top:493.35px;transform:scaleX(1.0292)">-0.3</div>
<div class="t n" style="left:470.46px;top:493.35px;transform:scaleX(1.0273);color:rgba(0,0,30,0.82)">1.4</div>
<div class="t b" style="left:528.02px;top:493.35px;transform:scaleX(0.9188)">@JAX</div>
<div class="t i" style="left:604.03px;top:493.35px;transform:scaleX(0.9691)">@BAL, SF, IND</div>
<div class="t r bye" style="left:759.29px;top:493.35px;transform:scaleX(0.8566)">BYE</div>
<div class="t b" style="left:20.80px;top:513.35px;transform:scaleX(0.9343)">CHI</div>
<div class="t n" style="left:84.30px;top:513.35px;transform:scaleX(1.0292);color:rgba(40,0,0,0.86)">-6.0</div>
<div class="t n" style="left:148.30px;top:513.35px;transform:scaleX(1.0292);color:rgba(40,0,0,0.81)">-3.0</div>
<div class="t n" style="left:214.46px;top:513.35px;transform:scaleX(1.0273);color:rgba(0,0,30,0.82)">3.7</div>
<div class="t n" style="left:276.30px;top:513.35px;transform:scaleX(1.0292);color:rgba(40,0,0,0.84)">-2.6</div>
<div class="t n" style="left:342.46px;top:513.35px;transform:scaleX(1.0273)">0.5</div>
<div class="t n" style="left:404.30px;top:513.35px;transform:scaleX(1.0292);color:rgba(40,0,0,0.64)">-3.0</div>
<div class="t n" style="left:468.30px;top:513.35px;transform:scaleX(1.0292);color:rgba(40,0,0,0.80)">-1.6</div>
<div class="t b" style="left:537.25px;top:513.35px;transform:scaleX(1.0043)">NO</div>
<div class="t i" style="left:593.46px;top:513.35px;transform:scaleX(0.9819)">@WSH, @LV, DAL</div>
<div class="t r" style="left:753.41px;top:513.35px;transform:scaleX(0.9277)">@BAL</div>
<div class="t b" style="left:21.88px;top:533.35px;transform:scaleX(0.9382)">PIT</div>
<div class="t n" style="left:84.30px;top:533.35px;transform:scaleX(1.0292);color:rgba(40,0,0,0.86)">-6.1</div>
<div class="t n" style="left:148.30px;top:533.35px;transform:scaleX(1.0292)">-0.9</div>
<div class="t n" style="left:212.30px;top:533.35px;transform:scaleX(1.0292);color:rgba(40,0,0,0.80)">-3.8</div>
<div class="t n" style="left:276.30px;top:533.35px;transform:scaleX(1.0292);color:rgba(40,0,0,0.85)">-2.3</div>
<div class="t n" style="left:342.46px;top:533.35px;transform:scaleX(1.0273);color:rgba(0,0,30,0.68)">5.5</div>
<div class="t n" style="left:404.30px;top:533.35px;transform:scaleX(1.0292);color:rgba(40,0,0,0.57)">-3.7</div>
<div class="t n" style="left:468.30px;top:533.35px;transform:scaleX(1.0292);color:rgba(40,0,0,0.85)">-0.9</div>
<div class="t b" style="left:529.46px;top:533.35px;transform:scaleX(0.9840)">@CIN</div>
<div class="t i" style="left:601.39px;top:533.35px;transform:scaleX(0.9699)">CLE, MIN, @NE</div>
<div class="t r" style="left:762.90px;top:533.35px;transform:scaleX(0.9170)">GB</div>
<div class="t b" style="left:19.00px;top:553.35px;transform:scaleX(0.9101)">DET</div>
<div class="t n" style="left:84.30px;top:553.35px;transform:scaleX(1.0292);color:rgba(40,0,0,0.86)">-6.1</div>
<div class="t n" style="left:150.46px;top:553.35px;transform:scaleX(1.0273)">0.7</div>
<div class="t n" style="left:212.30px;top:553.35px;transform:scaleX(1.0292);color:rgba(40,0,0,0.70)">-5.6</div>
<div class="t n" style="left:278.46px;top:553.35px;transform:scaleX(1.0273);color:rgba(0,0,30,0.74)">6.7</div>
<div class="t n" style="left:340.30px;top:553.35px;transform:scaleX(1.0292);color:rgba(40,0,0,0.69)">-4.0</div>
<div class="t n" style="left:404.30px;top:553.35px;transform:scaleX(1.0292);color:rgba(40,0,0,0.74)">-2.0</div>
<div class="t n" style="left:468.30px;top:553.35px;transform:scaleX(1.0292);color:rgba(40,0,0,0.77)">-1.9</div>
<div class="t b" style="left:538.33px;top:553.35px;transform:scaleX(0.8924)">TB</div>
<div class="t i" style="left:595.51px;top:553.35px;transform:scaleX(0.9305)">@KC, @CIN, CLE</div>
<div class="t r bye" style="left:759.29px;top:553.35px;transform:scaleX(0.8566)">BYE</div>
<div class="t b" style="left:22.61px;top:573.35px;transform:scaleX(0.8405)">KC</div>
<div class="t n" style="left:84.30px;top:573.35px;transform:scaleX(1.0292);color:rgba(40,0,0,0.85)">-6.6</div>
<div class="t n" style="left:150.46px;top:573.35px;transform:scaleX(1.0273);color:rgba(0,0,30,0.85)">2.0</div>
<div class="t n" style="left:212.30px;top:573.35px;transform:scaleX(1.0292)">-2.0</div>
<div class="t n" style="left:276.30px;top:573.35px;transform:scaleX(1.0292);color:rgba(40,0,0,0.86)">-2.2</div>
<div class="t n" style="left:340.30px;top:573.35px;transform:scaleX(1.0292);color:rgba(40,0,0,0.74)">-3.2</div>
<div class="t n" style="left:404.30px;top:573.35px;transform:scaleX(1.0292);color:rgba(40,0,0,0.84)">-1.0</div>
<div class="t n" style="left:468.30px;top:573.35px;transform:scaleX(1.0292)">-0.2</div>
<div class="t b" style="left:539.17px;top:573.35px;transform:scaleX(0.9501)">LV</div>
<div class="t i" style="left:598.36px;top:573.35px;transform:scaleX(0.9440)">DET, @JAX, BAL</div>
<div class="t r" style="left:757.13px;top:573.35px;transform:scaleX(0.9534)">WSH</div>
<div class="t b" style="left:22.97px;top:593.35px;transform:scaleX(0.9316)">NE</div>
<div class="t n" style="left:84.30px;top:593.35px;transform:scaleX(1.0292);color:rgba(40,0,0,0.83)">-8.8</div>
<div class="t n" style="left:148.30px;top:593.35px;transform:scaleX(1.0292)">-0.9</div>
<div class="t n" style="left:212.30px;top:593.35px;transform:scaleX(1.0292);color:rgba(40,0,0,0.51)">-9.0</div>
<div class="t n" style="left:276.30px;top:593.35px;transform:scaleX(1.0292);color:rgba(40,0,0,0.85)">-2.3</div>
<div class="t n" style="left:342.46px;top:593.35px;transform:scaleX(1.0273);color:rgba(0,0,30,0.67)">5.6</div>
<div class="t n" style="left:404.30px;top:593.35px;transform:scaleX(1.0292);color:rgba(40,0,0,0.71)">-2.3</div>
<div class="t n" style="left:470.46px;top:593.35px;transform:scaleX(1.0273)">0.1</div>
<div class="t b" style="left:527.66px;top:593.35px;transform:scaleX(0.9631)">@TEN</div>
<div class="t i" style="left:592.74px;top:593.35px;transform:scaleX(0.9739)">@NO, @BUF, CAR</div>
<div class="t r" style="left:759.65px;top:593.35px;transform:scaleX(0.8357)">CLE</div>
<div class="t b" style="left:20.08px;top:613.35px;transform:scaleX(1.1075)">MIN</div>
<div class="t n" style="left:80.68px;top:613.35px;transform:scaleX(1.0290);color:rgba(40,0,0,0.78)">-13.9</div>
<div class="t n" style="left:148.30px;top:613.35px;transform:scaleX(1.0292);color:rgba(40,0,0,0.74)">-5.0</div>
<div class="t n" style="left:212.30px;top:613.35px;transform:scaleX(1.0292)">-1.6</div>
<div class="t n" style="left:272.68px;top:613.35px;transform:scaleX(1.0290);color:rgba(40,0,0,0.51)">-10.7</div>
<div class="t n" style="left:342.46px;top:613.35px;transform:scaleX(1.0273);color:rgba(0,0,30,0.75)">3.9</div>
<div class="t n" style="left:406.46px;top:613.35px;transform:scaleX(1.0273);color:rgba(0,0,30,0.77)">1.7</div>
<div class="t n" style="left:468.30px;top:613.35px;transform:scaleX(1.0292);color:rgba(40,0,0,0.75)">-2.2</div>
<div class="t b" style="left:536.16px;top:613.35px;transform:scaleX(0.9673)">PHI</div>
<div class="t i" style="left:595.02px;top:613.35px;transform:scaleX(0.9497)">@CLE, @PIT, CIN</div>
<div class="t r" style="left:753.05px;top:613.35px;transform:scaleX(0.9062)">@LAC</div>
<div class="t b" style="left:19.84px;top:633.35px;transform:scaleX(0.9196)">ATL</div>
<div class="t n" style="left:80.68px;top:633.35px;transform:scaleX(1.0290);color:rgba(40,0,0,0.77)">-14.9</div>
<div class="t n" style="left:148.30px;top:633.35px;transform:scaleX(1.0292);color:rgba(40,0,0,0.81)">-2.9</div>
<div class="t n" style="left:212.30px;top:633.35px;transform:scaleX(1.0292);color:rgba(40,0,0,0.82)">-3.4</div>
<div class="t n" style="left:276.30px;top:633.35px;transform:scaleX(1.0292);color:rgba(40,0,0,0.75)">-4.8</div>
<div class="t n" style="left:340.30px;top:633.35px;transform:scaleX(1.0292);color:rgba(40,0,0,0.53)">-6.6</div>
<div class="t n" style="left:406.46px;top:633.35px;transform:scaleX(1.0273);color:rgba(0,0,30,0.86)">0.7</div>
<div class="t n" style="left:470.46px;top:633.35px;transform:scaleX(1.0273);color:rgba(0,0,30,0.77)">2.1</div>
<div class="t b" style="left:532.35px;top:633.35px;transform:scaleX(0.9163)">@SF</div>
<div class="t i" style="left:593.92px;top:633.35px;transform:scaleX(0.9642)">BUF, WSH, @CAR</div>
<div class="t r" style="left:760.74px;top:633.35px;transform:scaleX(1.0696)">MIA</div>
<div class="t b" style="left:18.27px;top:653.35px;transform:scaleX(0.9496)">DEN</div>
<div class="t n" style="left:80.68px;top:653.35px;transform:scaleX(1.0290);color:rgba(40,0,0,0.55)">-35.9</div>
<div class="t n" style="left:148.30px;top:653.35px;transform:scaleX(1.0292);color:rgba(40,0,0,0.69)">-6.7</div>
<div class="t n" style="left:212.30px;top:653.35px;transform:scaleX(1.0292);color:rgba(40,0,0,0.51)">-9.0</div>
<div class="t n" style="left:272.68px;top:653.35px;transform:scaleX(1.0290);color:rgba(40,0,0,0.54)">-10.1</div>
<div class="t n" style="left:340.30px;top:653.35px;transform:scaleX(1.0292);color:rgba(40,0,0,0.51)">-6.9</div>
<div class="t n" style="left:404.30px;top:653.35px;transform:scaleX(1.0292);color:rgba(40,0,0,0.74)">-2.0</div>
<div class="t n" style="left:468.30px;top:653.35px;transform:scaleX(1.0292);color:rgba(40,0,0,0.83)">-1.2</div>
<div class="t b" style="left:532.91px;top:653.35px;transform:scaleX(0.9456)">NYG</div>
<div class="t i" style="left:594.07px;top:653.35px;transform:scaleX(0.9529)">@NYJ, @PHI, CIN</div>
<div class="t r" style="left:759.65px;top:653.35px;transform:scaleX(0.9360)">DAL</div>
<div class="t b" style="left:17.55px;top:673.35px;transform:scaleX(0.9891)">HOU</div>
<div class="t n" style="left:80.68px;top:673.35px;transform:scaleX(1.0290);color:rgba(40,0,0,0.51)">-39.7</div>
<div class="t n" style="left:144.68px;top:673.35px;transform:scaleX(1.0290);color:rgba(40,0,0,0.51)">-12.1</div>
<div class="t n" style="left:212.30px;top:673.35px;transform:scaleX(1.0292);color:rgba(40,0,0,0.65)">-6.4</div>
<div class="t n" style="left:272.68px;top:673.35px;transform:scaleX(1.0290);color:rgba(40,0,0,0.51)">-10.8</div>
<div class="t n" style="left:340.30px;top:673.35px;transform:scaleX(1.0292);color:rgba(40,0,0,0.67)">-4.2</div>
<div class="t n" style="left:404.30px;top:673.35px;transform:scaleX(1.0292);color:rgba(40,0,0,0.84)">-1.0</div>
<div class="t n" style="left:468.30px;top:673.35px;transform:scaleX(1.0292);color:rgba(40,0,0,0.51)">-5.2</div>
<div class="t b" style="left:527.30px;top:673.35px;transform:scaleX(0.9177)">@SEA</div>
<div class="t i" style="left:591.17px;top:673.35px;transform:scaleX(0.9439)">@BAL, TEN, @JAX</div>
<div class="t r" style="left:763.99px;top:673.35px;transform:scaleX(0.8100)">SF</div>
</div>
</body></html>
